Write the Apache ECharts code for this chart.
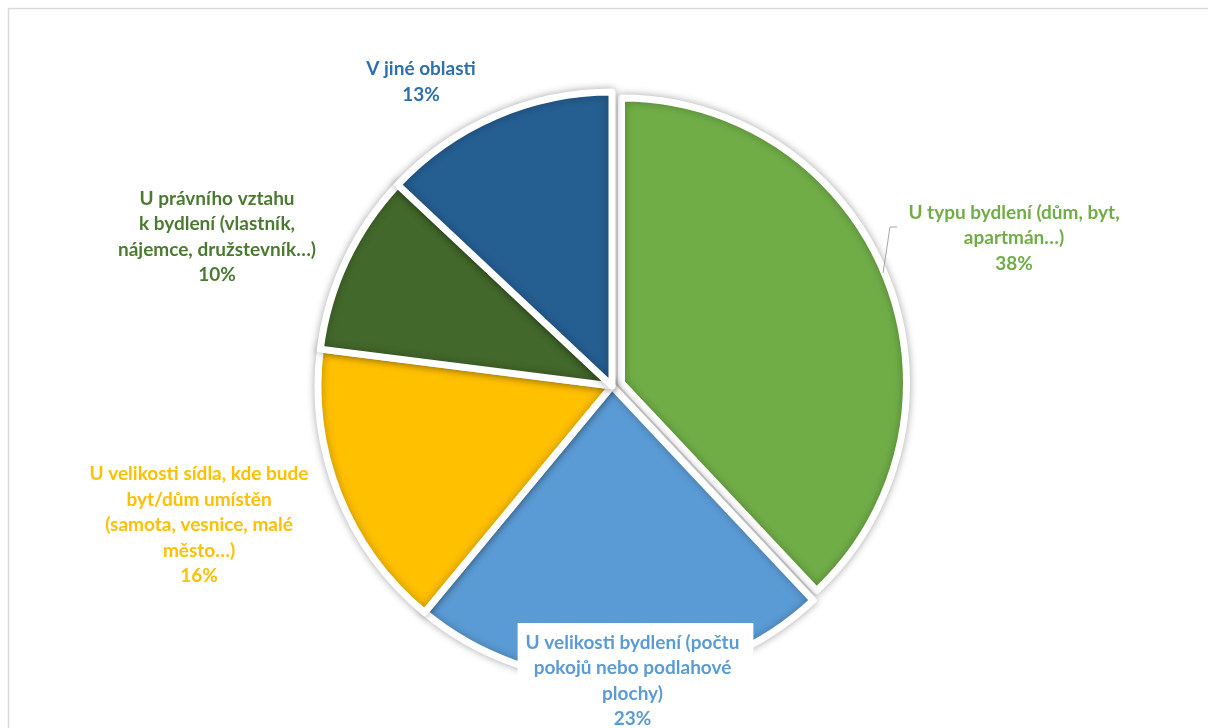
<!DOCTYPE html>
<html>
<head>
<meta charset="utf-8">
<script src="https://cdn.jsdelivr.net/npm/echarts@6/dist/echarts.min.js"></script>
<style>
  html, body { margin: 0; padding: 0; background: #ffffff; }
  #chart { width: 1208px; height: 728px; }
</style>
</head>
<body>
<div id="chart"></div>
<script>
// Categories (label lines wrapped as displayed) and their shares in percent
const categories = [
  'U typu bydlení (dům, byt,\napartmán…)',
  'U velikosti bydlení (počtu\npokojů nebo podlahové\nplochy)',
  'U velikosti sídla, kde bude\nbyt/dům umístěn\n(samota, vesnice, malé\nměsto…)',
  'U právního vztahu\nk bydlení (vlastník,\nnájemce, družstevník…)',
  'V jiné oblasti'
];
const shares = [38, 23, 16, 10, 13];

const sliceColors = ['#70AD47', '#5B9BD5', '#FFC000', '#43682B', '#255E91'];
const labelColors = ['#70AD47', '#5B9BD5', '#FFC000', '#4A7A31', '#2E6FAE'];

// Pie geometry; the first slice is pulled out and drawn a little smaller
const explodedIndex = 0;
const pieCenter = [612, 386];
const pieRadius = 294;
const explodedCenter = [621.5, 383];
const explodedRadius = 285;

// Where each label block is centred
const labelAnchors = [
  [1014, 238],
  [635.5, 681],
  [199, 525],
  [217, 237],
  [421, 82]
];

const hidden = { color: 'rgba(0,0,0,0)', borderWidth: 0, shadowBlur: 0 };

const chart = echarts.init(document.getElementById('chart'), null, { renderer: 'canvas' });

const sliceStyle = {
  borderColor: '#ffffff',
  borderWidth: 7,
  shadowBlur: 8,
  shadowColor: 'rgba(0,0,0,0.28)'
};

// Main pie: every slice except the exploded one, plus all labels
const mainData = categories.map((name, i) => ({
  name: name,
  value: shares[i],
  itemStyle: i === explodedIndex ? hidden : { color: sliceColors[i] },
  label: {
    color: labelColors[i],
    backgroundColor: i === 1 ? '#ffffff' : 'transparent',
    padding: i === 1 ? [7, 14, 7, 8] : 0
  },
  labelLine: { show: i === explodedIndex }
}));

// Second pie: only the exploded slice
const explodedData = categories.map((name, i) => ({
  name: name,
  value: shares[i],
  itemStyle: i === explodedIndex ? { color: sliceColors[i] } : hidden
}));

chart.setOption({
  backgroundColor: '#ffffff',
  animation: false,
  graphic: [{
    type: 'rect',
    shape: { x: 8.5, y: 8.5, width: 1230, height: 760 },
    style: { fill: 'none', stroke: '#d9d9d9', lineWidth: 1.5 },
    silent: true
  }],
  series: [{
    type: 'pie',
    center: explodedCenter,
    radius: [0, explodedRadius],
    startAngle: 90,
    clockwise: true,
    silent: true,
    z: 1,
    itemStyle: sliceStyle,
    label: { show: false },
    labelLine: { show: false },
    emphasis: { disabled: true },
    data: explodedData
  }, {
    type: 'pie',
    center: pieCenter,
    radius: [0, pieRadius],
    startAngle: 90,
    clockwise: true,
    percentPrecision: 0,
    avoidLabelOverlap: false,
    z: 2,
    itemStyle: sliceStyle,
    label: {
      show: true,
      position: 'outside',
      formatter: '{b}\n{d}%',
      fontFamily: 'Lato',
      fontWeight: 'bold',
      fontSize: 19,
      lineHeight: 25.5,
      align: 'center'
    },
    labelLine: {
      show: true,
      lineStyle: { color: '#a6a6a6', width: 1 }
    },
    labelLayout: function (params) {
      const p = labelAnchors[params.dataIndex];
      const out = { x: p[0], y: p[1], align: 'center', verticalAlign: 'middle' };
      if (params.dataIndex === explodedIndex) {
        out.labelLinePoints = [[883, 273], [890, 227], [897, 227]];
      }
      return out;
    },
    emphasis: { disabled: true },
    data: mainData
  }]
});
</script>
</body>
</html>
